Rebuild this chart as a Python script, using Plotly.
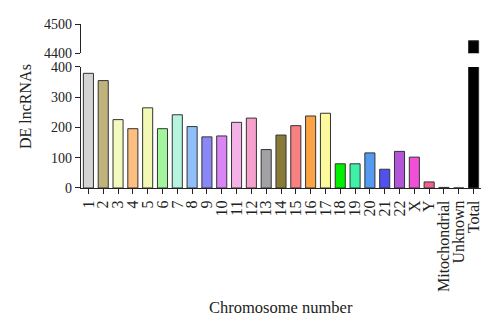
import plotly.graph_objects as go

categories = ["1", "2", "3", "4", "5", "6", "7", "8", "9", "10", "11", "12", "13", "14",
              "15", "16", "17", "18", "19", "20", "21", "22", "X", "Y",
              "Mitochondrial", "Unknown", "Total"]
values = [379, 355, 226, 196, 265, 196, 242, 203, 169, 172, 217, 231, 127, 175,
          206, 238, 247, 80, 80, 116, 62, 121, 102, 20, 2, 0, 4443]
colors = ["#d4d4d4", "#bfb27a", "#f4f9bd", "#fdbf80", "#f3f8b5", "#a3f59d", "#b5f5e0",
          "#91bff9", "#8a88f7", "#d985f5", "#f5b2e8", "#f7a0cc", "#a2a2a6", "#8a7a37",
          "#f88080", "#fba446", "#fdfa9e", "#00f000", "#40f0a8", "#5599f0", "#5050f0",
          "#b355d8", "#f050d8", "#f06090", "#ffb0b0", "#ffffff", "#000000"]
lower_ticks = [0, 100, 200, 300, 400]
upper_ticks = [4400, 4500]

FONT = "Liberation Serif"

fig = go.Figure()
fig.add_trace(go.Bar(x=categories, y=values, marker=dict(color=colors, line=dict(color="#333333", width=1)),
                     width=0.68, xaxis="x", yaxis="y", showlegend=False))
fig.add_trace(go.Bar(x=categories, y=values, marker=dict(color=colors, line=dict(color="#333333", width=1)),
                     width=0.68, xaxis="x", yaxis="y2", showlegend=False))

fig.update_layout(
    width=500, height=330,
    margin=dict(l=81, r=19, t=24, b=142),
    paper_bgcolor="white", plot_bgcolor="white",
    font=dict(family=FONT, size=14, color="#222"),
    barmode="overlay",
    xaxis=dict(type="category", categoryorder="array", categoryarray=categories,
               tickmode="array", tickvals=categories, ticktext=categories,
               range=[-0.5, 26.5], showline=True, linecolor="#222", linewidth=1.2,
               ticks="outside", ticklen=5, tickcolor="#222", tickangle=-90,
               tickfont=dict(family=FONT, size=16, color="#222"),
               showgrid=False, zeroline=False, anchor="y"),
    yaxis=dict(domain=[0, 0.738], range=[0, 400], tickvals=lower_ticks,
               showline=True, linecolor="#222", linewidth=1.2, ticks="outside",
               ticklen=5, tickcolor="#222", showgrid=False, zeroline=False,
               tickfont=dict(family=FONT, size=14, color="#222")),
    yaxis2=dict(domain=[0.821, 1], range=[4400, 4500], tickvals=upper_ticks,
                showline=True, linecolor="#222", linewidth=1.2, ticks="outside",
                ticklen=5, tickcolor="#222", showgrid=False, zeroline=False,
                anchor="x", tickfont=dict(family=FONT, size=14, color="#222")),
    annotations=[
        dict(text="DE lncRNAs", xref="paper", yref="paper", x=-0.14, y=0.5,
             textangle=-90, showarrow=False, xanchor="center", yanchor="middle",
             font=dict(family=FONT, size=16, color="#222")),
        dict(text="Chromosome number", xref="paper", yref="paper", x=0.5, y=-0.726,
             showarrow=False, xanchor="center", yanchor="middle",
             font=dict(family=FONT, size=16.5, color="#222")),
    ],
)

fig.write_html("out.html")
